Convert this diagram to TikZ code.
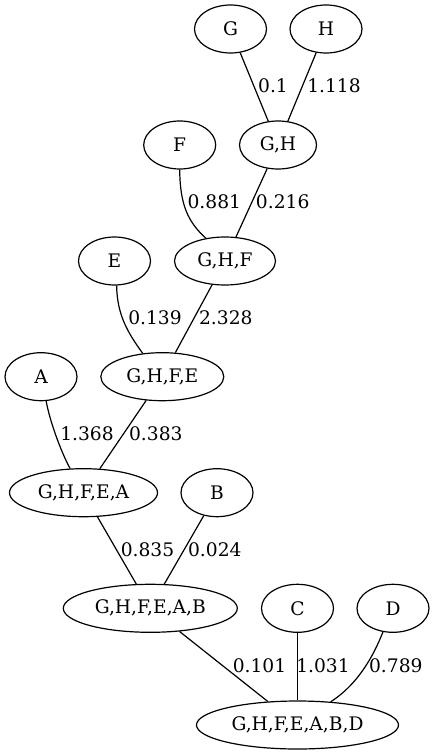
\documentclass[tikz,border=0pt]{standalone}
\usepackage{fontspec}
\setmainfont{DejaVu Serif}
\usetikzlibrary{shapes.geometric}
\begin{document}
\begin{tikzpicture}[x=0.75pt,y=0.75pt,
  nd/.style={draw,ellipse,inner sep=0pt,minimum height=36pt,line width=0.9pt,font=\fontsize{14}{16}\selectfont},
  lbl/.style={inner sep=0pt,font=\fontsize{14}{16}\selectfont},
  edge/.style={line width=0.9pt}]
\useasboundingbox (0,0) rectangle (435,-755);
% nodes
\node[nd,minimum width=54pt] (G) at (230.5,-29) {G};
\node[nd,minimum width=54pt] (H) at (326,-29) {H};
\node[nd,minimum width=57.75pt] (GH) at (278,-145) {G,H};
\node[nd,minimum width=54pt] (F) at (179.7,-145) {F};
\node[nd,minimum width=75.75pt] (GHF) at (225,-261) {G,H,F};
\node[nd,minimum width=54pt] (E) at (114.5,-261) {E};
\node[nd,minimum width=92.25pt] (GHFE) at (162.3,-376.7) {G,H,F,E};
\node[nd,minimum width=54pt] (A) at (41,-376.7) {A};
\node[nd,minimum width=111pt] (GHFEA) at (83.5,-492.7) {G,H,F,E,A};
\node[nd,minimum width=54pt] (B) at (217,-492.7) {B};
\node[nd,minimum width=130.5pt] (GHFEAB) at (150.3,-608.3) {G,H,F,E,A,B};
\node[nd,minimum width=54pt] (C) at (297.5,-608.3) {C};
\node[nd,minimum width=54pt] (D) at (393,-608.3) {D};
\node[nd,minimum width=151.5pt] (GHFEABD) at (297.5,-725) {G,H,F,E,A,B,D};
% edges
\draw[edge] (G) -- (GH);
\draw[edge] (H) -- (GH);
\draw[edge] (F.south) .. controls (180,-205) and (188,-222) .. (GHF.130);
\draw[edge] (GH) -- (GHF);
\draw[edge] (E.-85) .. controls (117,-315) and (128,-333) .. (GHFE.130);
\draw[edge] (GHF) -- (GHFE);
\draw[edge] (A.-78) .. controls (49,-418) and (60,-450) .. (GHFEA.119);
\draw[edge] (GHFE) -- (GHFEA);
\draw[edge] (GHFEA) -- (GHFEAB);
\draw[edge] (B) -- (GHFEAB);
\draw[edge] (GHFEAB) -- (GHFEABD);
\draw[edge] (C) -- (GHFEABD);
\draw[edge] (D.-113) .. controls (375,-652) and (360,-683) .. (GHFEABD.35);
% edge labels
\node[lbl] (l1) at (273,-85.7) {0.1};
\node[lbl] (l2) at (334,-85.7) {1.118};
\node[lbl] (l3) at (214.3,-201.7) {0.881};
\node[lbl] (l4) at (282.7,-201.7) {0.216};
\node[lbl] (l5) at (155,-317.7) {0.139};
\node[lbl] (l6) at (225.8,-317.7) {2.328};
\node[lbl] (l7) at (87,-433.3) {1.368};
\node[lbl] (l8) at (155.8,-433.3) {0.383};
\node[lbl] (l9) at (147.5,-550) {0.835};
\node[lbl] (l10) at (214.8,-550) {0.024};
\node[lbl] (l11) at (259.5,-665.7) {0.101};
\node[lbl] (l12) at (323,-665.7) {1.031};
\node[lbl] (l13) at (395.8,-665.7) {0.789};
\end{tikzpicture}
\end{document}
